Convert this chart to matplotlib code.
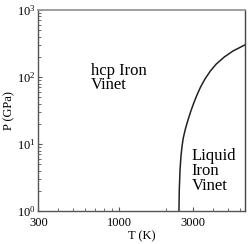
import matplotlib
matplotlib.use("Agg")
import matplotlib.pyplot as plt
from matplotlib.ticker import FixedLocator, FixedFormatter, LogLocator, LogFormatterMathtext, NullFormatter

plt.rcParams['font.family'] = ['Liberation Serif', 'DejaVu Serif']
plt.rcParams['mathtext.fontset'] = 'stix'

# melting curve (T in K, P in GPa)
T_melt = [2427, 2438, 2464, 2501, 2542, 2588, 2670, 2775, 2897, 3024, 3172,
          3346, 3572, 3870, 4226, 4759, 5416, 6500]
P_melt = [1.0, 1.99, 3.95, 6.62, 9.34, 12.3, 16.75, 22.8, 31.1, 40.9, 53.9,
          70.9, 93.4, 122.9, 156.3, 198.9, 244.4, 303.4]

x_ticks = [300, 1000, 3000]
x_ticklabels = ["300", "1000", "3000"]
y_ticks = [1, 10, 100, 1000]

fig = plt.figure(figsize=(2.5, 2.44), dpi=100)
ax = fig.add_axes([0.153, 0.135, 0.828, 0.824])
ax.plot(T_melt, P_melt, color='#222222', lw=1.1)
ax.set_xscale('log')
ax.set_yscale('log')
ax.set_xlim(300, 6500)
ax.set_ylim(1, 1000)

ax.xaxis.set_major_locator(FixedLocator(x_ticks))
ax.xaxis.set_major_formatter(FixedFormatter(x_ticklabels))
ax.xaxis.set_minor_locator(LogLocator(base=10, subs=range(2, 10)))
ax.xaxis.set_minor_formatter(NullFormatter())
ax.yaxis.set_major_locator(FixedLocator(y_ticks))
ax.yaxis.set_major_formatter(LogFormatterMathtext())
ax.yaxis.set_minor_locator(LogLocator(base=10, subs=range(2, 10)))
ax.yaxis.set_minor_formatter(NullFormatter())

ax.tick_params(which='both', direction='in', top=False, right=False,
               labelsize=9, colors='#555555', labelcolor='black')
ax.tick_params(axis='x', pad=4)
ax.tick_params(axis='y', pad=2)
ax.tick_params(which='major', length=3, width=0.8)
ax.tick_params(which='minor', length=2, width=0.6)

for s in ['left', 'bottom']:
    ax.spines[s].set_color('#555555')
    ax.spines[s].set_linewidth(1.0)
ax.spines['right'].set_color('#444444')
ax.spines['right'].set_linewidth(1.0)
ax.spines['top'].set_color('#999999')
ax.spines['top'].set_linewidth(1.3)

ax.set_xlabel('T (K)', fontsize=9, labelpad=1)
ax.set_ylabel('P (GPa)', fontsize=9, labelpad=1)

ax.text(0.255, 0.662, 'hcp Iron\nVinet', transform=ax.transAxes, fontsize=12,
        va='center', ha='left', linespacing=0.9)
ax.text(0.74, 0.20, 'Liquid\nIron\nVinet', transform=ax.transAxes, fontsize=12,
        va='center', ha='left', linespacing=0.9)

fig.savefig('out.png', dpi=100)
